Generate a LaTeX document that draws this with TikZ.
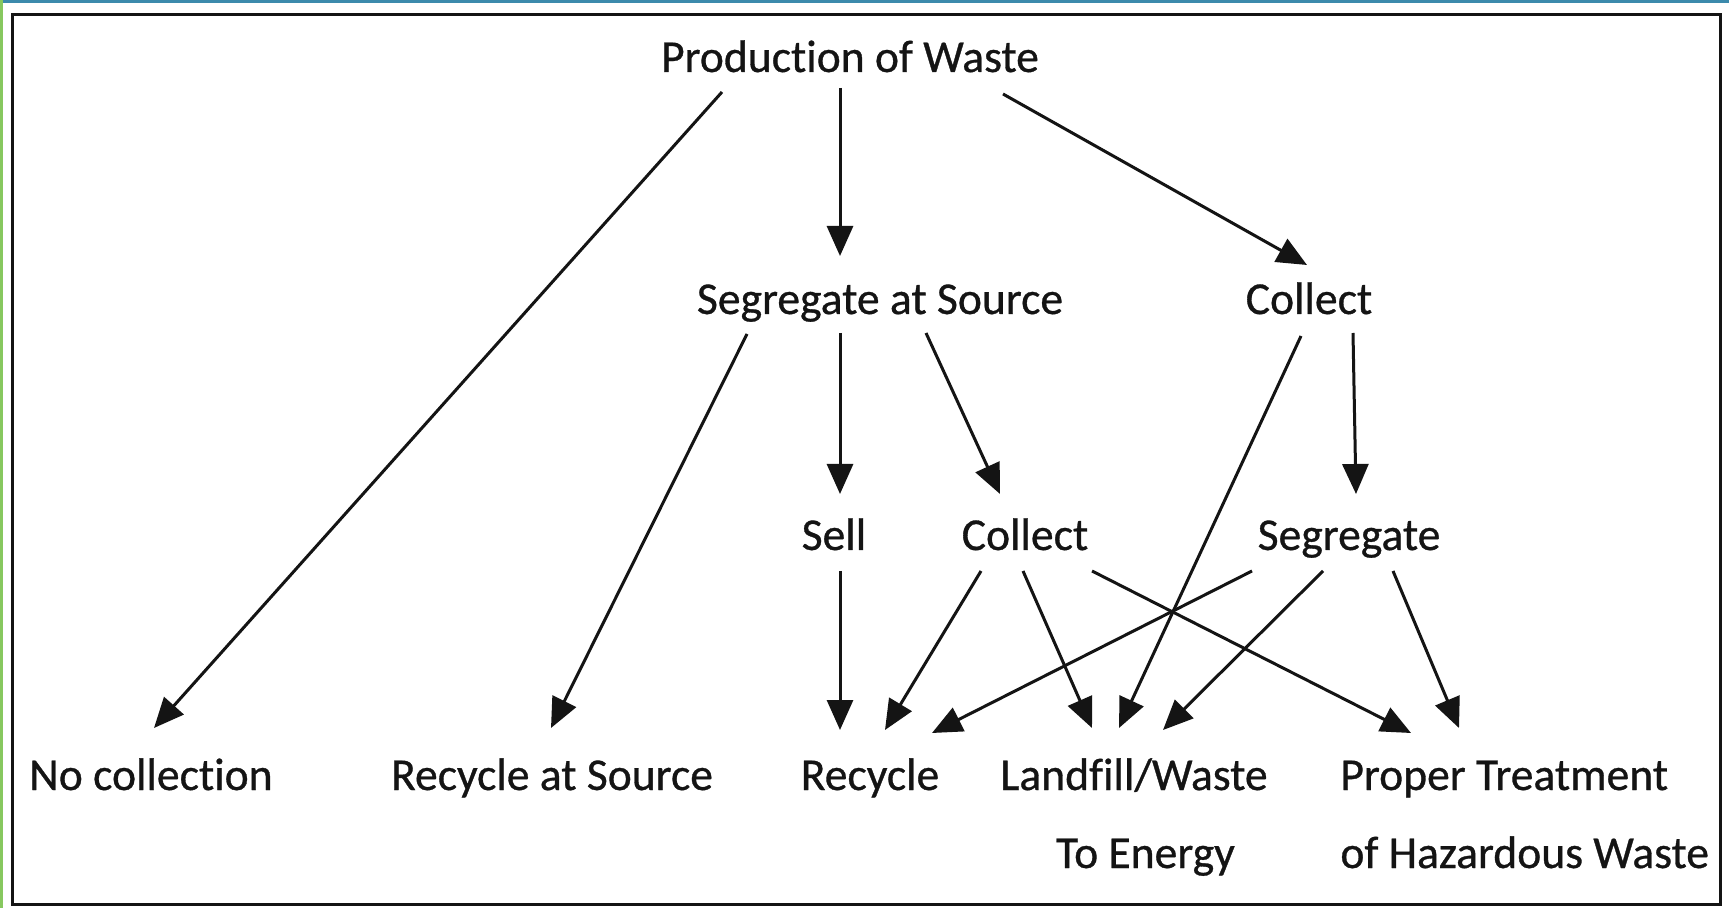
\documentclass[tikz,border=0pt]{standalone}
\usepackage{fontspec}
\setmainfont{Carlito}[Ligatures=NoCommon]
\newfontfamily\lblfont{Carlito}[Ligatures=NoCommon, FakeBold=0.7]
\usetikzlibrary{arrows.meta,calc}
\definecolor{topbar}{RGB}{60,138,172}
\definecolor{leftbar}{RGB}{135,200,95}
\definecolor{ink}{RGB}{20,20,20}
\tikzset{
  lbl/.style={font=\lblfont\fontsize{22.8}{39}\selectfont, text=ink, inner sep=0pt, anchor=base},
  arr/.style={draw=ink, line width=1.5pt, -{Triangle[length=15pt,width=13pt]}},
}
\begin{document}
\begin{tikzpicture}[x=0.5pt,y=-0.5pt]
\useasboundingbox (0,0) rectangle (1729,908);
\fill[white] (0,0) rectangle (1729,908);
\fill[topbar] (0,0) rectangle (1729,3.5);
\fill[leftbar] (0,0) rectangle (3,908);
\draw[line width=1.5pt, draw=ink] (12.5,15) rectangle (1720.5,904.5);

\node[lbl] (prod) at (850,72) {Production of Waste};
\node[lbl] (sas) at (880,314) {Segregate at Source};
\node[lbl] (colT) at (1309,314) {Collect};
\node[lbl] (sell) at (834,550) {Sell};
\node[lbl] (colM) at (1025,550) {Collect};
\node[lbl] (seg) at (1349,550) {Segregate};
\node[lbl] (nocol) at (151,790) {No collection};
\node[lbl] (ras) at (552,790) {Recycle at Source};
\node[lbl] (rec) at (870,790) {Recycle};
\node[lbl, align=center] (land) at (1134,868) {Landfill/Waste\\\hspace*{0.5em}To Energy};
\node[lbl, align=left, anchor=base west] (proper) at (1340,868) {Proper Treatment\\of Hazardous Waste};

\draw[arr] ($(prod.base)+(-128,20)$) -- ($(nocol.base)+(3,-62)$);
\draw[arr] ($(prod.base)+(-10,16)$) -- ($(sas.base)+(-40,-58)$);
\draw[arr] ($(prod.base)+(153,22)$) -- ($(colT.base)+(-2,-49)$);
\draw[arr] ($(sas.base)+(-133,20)$) -- ($(ras.base)+(-1,-62)$);
\draw[arr] ($(sas.base)+(-40,19)$) -- ($(sell.base)+(6,-56)$);
\draw[arr] ($(sas.base)+(46,19)$) -- ($(colM.base)+(-25,-56)$);
\draw[arr] ($(colT.base)+(-8,22)$) -- ($(land.base)+(-15,-140)$);
\draw[arr] ($(colT.base)+(44,19)$) -- ($(seg.base)+(7,-56)$);
\draw[arr] ($(sell.base)+(6,21)$) -- ($(rec.base)+(-30,-60)$);
\draw[arr] ($(colM.base)+(-44,21)$) -- ($(rec.base)+(15,-60)$);
\draw[arr] ($(colM.base)+(-2,21)$) -- ($(land.base)+(-42,-140)$);
\draw[arr] ($(colM.base)+(67,21)$) -- ($(proper.base west)+(71,-135)$);
\draw[arr] ($(seg.base)+(-97,21)$) -- ($(rec.base)+(62,-57)$);
\draw[arr] ($(seg.base)+(-26,21)$) -- ($(land.base)+(29,-138)$);
\draw[arr] ($(seg.base)+(44,21)$) -- ($(proper.base west)+(119,-140)$);
\end{tikzpicture}
\end{document}
